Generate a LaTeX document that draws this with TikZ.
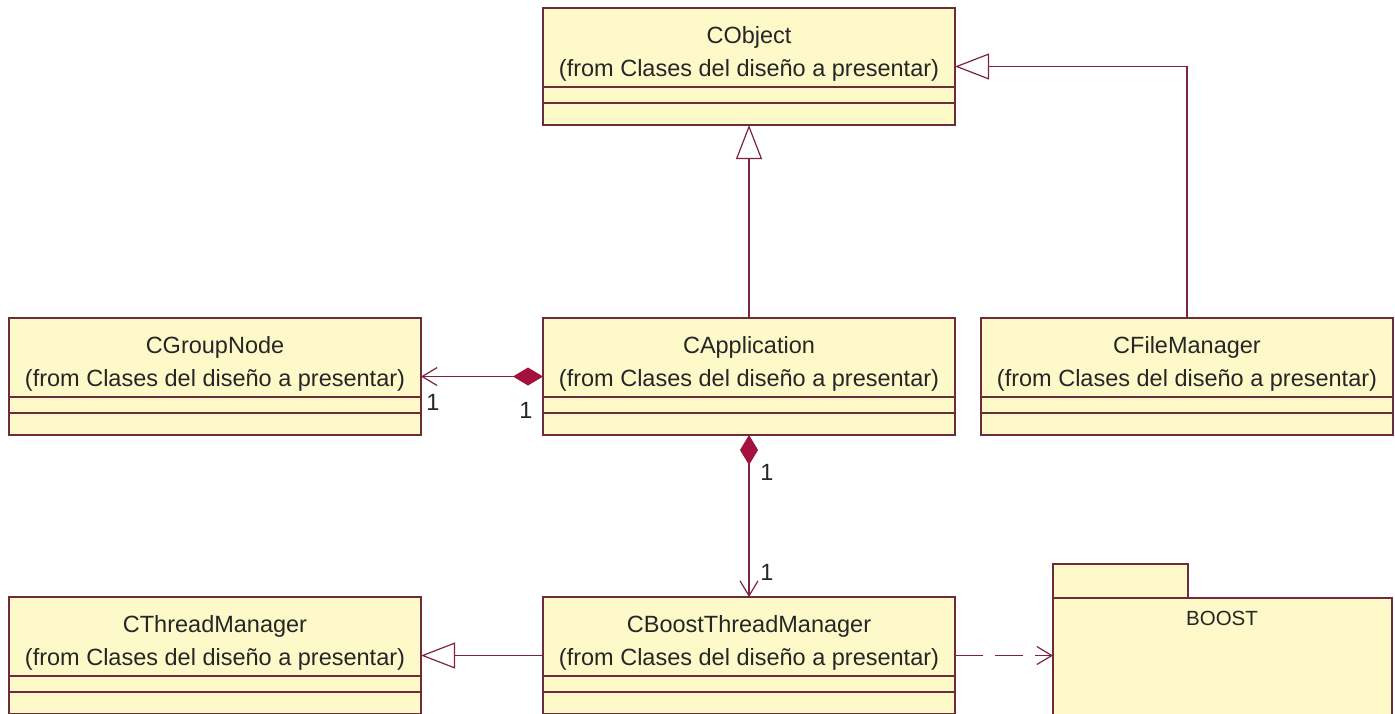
\documentclass[tikz,border=0pt]{standalone}
\usepackage{fontspec}
\setmainfont{Liberation Sans}
\usetikzlibrary{arrows.meta,calc}

\definecolor{boxfill}{HTML}{FDF9C9}
\definecolor{boxedge}{HTML}{6E2C3A}
\definecolor{wire}{HTML}{7E2148}
\definecolor{diamondred}{HTML}{A3123F}

\tikzset{
  classbox/.style={rectangle, draw=boxedge, fill=boxfill, line width=1.3pt,
    minimum width=412pt, minimum height=117pt, inner sep=0pt, outer sep=0pt},
  classtext/.style={font=\fontsize{23.5}{28}\selectfont, inner sep=0pt, text=black!85},
  compline/.style={draw=boxedge, line width=1.3pt},
  wireline/.style={draw=wire, line width=1.2pt},
  inherits/.style={wireline, -{Triangle[open, length=34pt, width=26pt]}},
  owns/.style={wireline,
    {Diamond[length=30pt, width=18pt, fill=diamondred, color=diamondred]}-{Straight Barb[length=15pt, width=18pt]}},
  uses/.style={wireline, dash pattern=on 28pt off 12pt,
    -{Straight Barb[length=15pt, width=18pt]}},
  mult/.style={font=\fontsize{23.5}{28}\selectfont, inner sep=0pt, text=black!85},
  pkgbox/.style={rectangle, draw=boxedge, fill=boxfill, line width=1.3pt,
    inner sep=0pt, outer sep=0pt},
}

% UML class: #1 name, #2 left x, #3 top y, #4 class title
\newcommand\drawclass[4]{%
  \node[classbox, anchor=north west] (#1) at (#2,-#3) {};
  \node[classtext, anchor=base] (#1-name) at ($(#1.north)+(0,-35)$) {#4};
  \node[classtext, anchor=base] (#1-from) at ($(#1.north)+(0,-68)$) {(from Clases del diseño a presentar)};
  \draw[compline] ($(#1.north west)+(0,-79)$) -- ($(#1.north east)+(0,-79)$);
  \draw[compline] ($(#1.north west)+(0,-95)$) -- ($(#1.north east)+(0,-95)$);
}

\begin{document}
\begin{tikzpicture}[x=1pt, y=1pt]
  \useasboundingbox (0,0) rectangle (1395,-713);
  \clip (0,0) rectangle (1395,-713);

  % classes
  \drawclass{cobj}{543}{8}{CObject}
  \drawclass{cgroup}{9}{318}{CGroupNode}
  \drawclass{capp}{543}{318}{CApplication}
  \drawclass{cfile}{981}{318}{CFileManager}
  \drawclass{cthread}{9}{597}{CThreadManager}
  \drawclass{cboost}{543}{597}{CBoostThreadManager}

  % BOOST package
  \node[pkgbox, anchor=north west, minimum width=135pt, minimum height=34pt] (boosttab) at (1053,-564) {};
  \node[pkgbox, anchor=north west, minimum width=339pt, minimum height=117pt] (boost) at (1053,-598) {};
  \node[classtext, anchor=base, font=\fontsize{20.5}{24}\selectfont] (boost-name) at (1222,-625) {BOOST};

  % relations
  \draw[inherits] (capp.north) -- (cobj.south);
  \draw[inherits] (cfile.north) |- (cobj.east);
  \draw[owns] (capp.west) -- (cgroup.east);
  \draw[owns] (capp.south) -- (cboost.north);
  \draw[inherits] (cboost.west) -- (cthread.east);
  \draw[uses] (cboost.east) -- (cboost.east -| boost.west);

  % multiplicities
  \node[mult] (m-group) at (433,-402) {1};
  \node[mult] (m-app-left) at (526,-410) {1};
  \node[mult] (m-app-down) at (767,-472) {1};
  \node[mult] (m-boost) at (767,-572) {1};
\end{tikzpicture}
\end{document}
